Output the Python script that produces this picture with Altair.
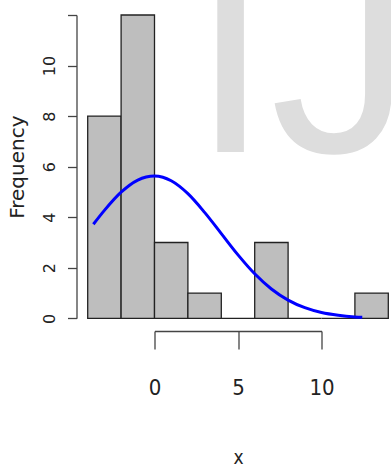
import altair as alt
import pandas as pd

# Histogram bins (width 2) and their counts
bin_lo = [-4, -2, 0, 2, 4, 6, 8, 10, 12]
bin_hi = [-2, 0, 2, 4, 6, 8, 10, 12, 14]
counts = [8, 12, 3, 1, 0, 3, 0, 0, 1]

# Fitted normal curve, scaled to frequency
curve_x = [-3.66, -3, -2, -1, -0.5, 0, 0.5, 1, 2, 3, 4, 5, 6, 7, 8, 9, 10, 11, 12, 12.44]
curve_y = [3.72, 4.27, 4.99, 5.47, 5.59, 5.63, 5.58, 5.44, 4.93, 4.19, 3.35, 2.51,
           1.76, 1.16, 0.72, 0.42, 0.23, 0.12, 0.056, 0.04]

x_ticks = [0, 5, 10]
y_ticks = [0, 2, 4, 6, 8, 10, 12]

bars = pd.DataFrame({"lo": bin_lo, "hi": bin_hi, "count": counts})
curve = pd.DataFrame({"x": curve_x, "y": curve_y})
mark_df = pd.DataFrame({"t": ["IJ"]})

xscale = alt.Scale(domain=[0, 10], nice=False, zero=False)
yscale = alt.Scale(domain=[0, 12], nice=False, zero=False)

axis_common = dict(
    grid=False,
    domainColor="#444444",
    domainWidth=1.3,
    tickColor="#444444",
    tickWidth=1.3,
    labelColor="#222222",
    titleColor="#222222",
    labelFlush=False,
    labelOverlap=False,
    titleFontWeight="normal",
)

x_axis = alt.Axis(
    values=x_ticks,
    title="x",
    offset=12.7,
    tickSize=18,
    labelFont="Liberation Sans Narrow, DejaVu Sans Condensed, Liberation Sans",
    labelFontSize=22,
    labelBaseline="alphabetic",
    labelPadding=45,
    titleFont="Liberation Sans Narrow, DejaVu Sans Condensed, Liberation Sans",
    titleFontSize=19,
    titleBaseline="alphabetic",
    titleX=83.5,
    titleY=132,
    **axis_common,
)

y_axis = alt.Axis(
    values=y_ticks,
    title="Frequency",
    offset=78,
    tickSize=9,
    labelAngle=-90,
    labelAlign="center",
    labelBaseline="bottom",
    labelPadding=10,
    labelFont="DejaVu Sans",
    labelFontSize=16,
    labelExpr="datum.value == 12 ? '' : datum.label",
    titleFont="DejaVu Sans",
    titleFontSize=20,
    titleAngle=-90,
    titleAlign="center",
    titleBaseline="alphabetic",
    titleX=-53,
    titleY=151.7,
    **axis_common,
)

hist = alt.Chart(bars).mark_rect(
    fill="#BEBEBE", stroke="#222222", strokeWidth=1.3
).encode(
    x=alt.X("lo:Q", scale=xscale, axis=x_axis),
    x2="hi:Q",
    y=alt.Y("count:Q", scale=yscale, axis=y_axis),
    y2=alt.datum(0),
)

line = alt.Chart(curve).mark_line(
    color="#0000FF", strokeWidth=3, interpolate="monotone"
).encode(
    x=alt.X("x:Q", scale=xscale),
    y=alt.Y("y:Q", scale=yscale),
)

stamp = alt.Chart(mark_df).mark_text(
    font="Liberation Sans", fontSize=285, color="#DDDDDD",
    align="left", baseline="alphabetic"
).encode(
    text="t:N",
    x=alt.value(36.5),
    y=alt.value(137),
)

chart = alt.layer(hist, line, stamp).properties(
    width=167,
    height=303.3,
    padding={"left": 154.5, "top": 15, "right": 69.5, "bottom": 147.7},
    autosize=alt.AutoSizeParams(type="none"),
).configure_view(stroke=None)

chart.save("out.html", embed_options={"renderer": "svg", "actions": False})
